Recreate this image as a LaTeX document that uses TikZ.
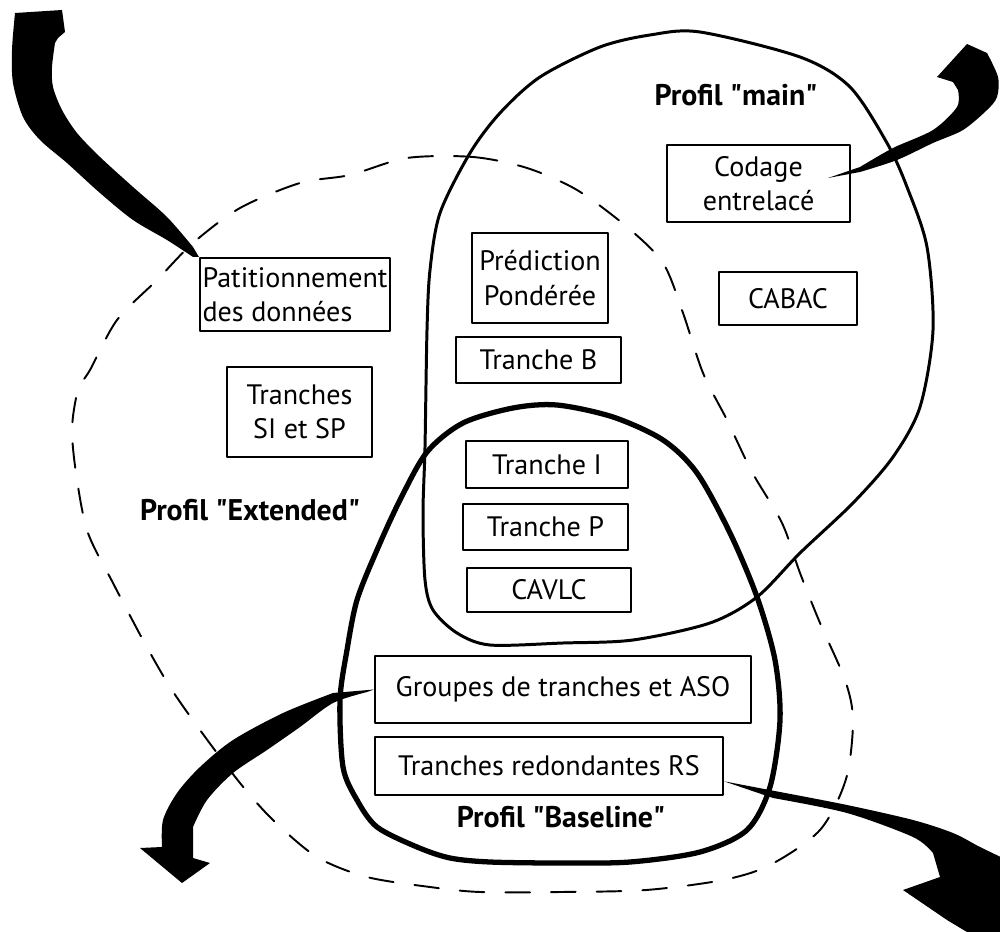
\documentclass[tikz,border=0pt]{standalone}
\usepackage{fontspec}
\setmainfont{PT Sans}
\begin{document}
\begin{tikzpicture}[line cap=round,line join=round,x=0.02cm,y=-0.02cm,
	bloc/.style={draw,line width=1.2pt,inner sep=0pt,align=center,font=\fontsize{16}{19.5}\selectfont},
	profil/.style={font=\bfseries\fontsize{17}{20}\selectfont},
	fleche/.style={fill=black}]
	\useasboundingbox (0,0) rectangle (1000,932);
	\clip (0,0) rectangle (1000,932);
	% boites
	\node[bloc,minimum width=3.66cm,minimum height=1.54cm] (codage) at (758.5,183.5) {Codage\\entrelacé};
	\node[bloc,minimum width=2.76cm,minimum height=1.06cm] (cabac) at (788,298.5) {CABAC};
	\node[bloc,minimum width=3.8cm,minimum height=1.46cm,align=left] (patit) at (295,294.5) {Patitionnement\\des données};
	\node[bloc,minimum width=2.72cm,minimum height=1.8cm] (pred) at (540,278) {Prédiction\\Pondérée};
	\node[bloc,minimum width=3.3cm,minimum height=0.92cm] (trB) at (538.5,360) {Tranche B};
	\node[bloc,minimum width=2.9cm,minimum height=1.8cm] (sisp) at (299.5,412) {Tranches\\SI et SP};
	\node[bloc,minimum width=3.24cm,minimum height=0.94cm] (trI) at (547,464.5) {Tranche I};
	\node[bloc,minimum width=3.3cm,minimum height=0.92cm] (trP) at (545.5,527) {Tranche P};
	\node[bloc,minimum width=3.28cm,minimum height=0.88cm] (cavlc) at (549,590) {CAVLC};
	\node[bloc,minimum width=7.52cm,minimum height=1.34cm] (groupes) at (563,689.5) {Groupes de tranches et ASO};
	\node[bloc,minimum width=6.96cm,minimum height=1.16cm] (rs) at (549,766) {Tranches redondantes RS};
	% profils
	\node[profil] (lmain) at (736,95) {Profil \textquotedbl main\textquotedbl};
	\node[profil] (lext) at (250,510) {Profil \textquotedbl Extended\textquotedbl};
	\node[profil] (lbase) at (561,817) {Profil \textquotedbl Baseline\textquotedbl};
	\draw[line width=1.7pt] plot[smooth cycle] coordinates {(600,47) (650,35) (700,32) (800,57) (850,87) (887,143) (907,187) (927,247) (933,330) (920,407) (893,457) (853,503) (800,553) (757,597) (710,623) (633,640) (563,643) (490,645) (457,633) (433,610) (425,580) (423,513) (425,447) (427,330) (430,270) (440,213) (470,153) (500,113) (540,77)};
	\draw[line width=3pt] plot[smooth cycle] coordinates {(427,452) (463,423) (513,408) (557,405) (613,417) (663,440) (697,473) (730,533) (757,597) (775,660) (780,720) (770,787) (747,830) (700,852) (630,862) (560,863) (490,862) (450,858) (417,847) (377,827) (357,800) (343,767) (340,700) (347,650) (357,600) (377,550) (400,500)};
	\draw[line width=1.1pt,dash pattern=on 14pt off 12pt] plot[smooth cycle] coordinates {(407,158) (473,157) (527,168) (577,190) (627,227) (663,263) (683,313) (703,373) (727,420) (752,472) (782,523) (800,573) (820,623) (845,680) (853,720) (846,779) (820,830) (770,865) (723,880) (646,890) (560,892) (480,892) (430,887) (367,877) (317,857) (273,820) (240,783) (200,730) (170,687) (143,640) (113,583) (88,533) (77,480) (72,430) (78,390) (90,370) (117,320) (157,280) (193,243) (240,208) (300,183) (350,175)};
	% fleches
	\fill[fleche] (patit.north west) -- plot[smooth] coordinates {(193,257) (167,240) (133,220) (100,193) (67,163) (40,140) (23,117) (13,83) (12,50) (15,13)} -- (62,10) -- (65,32) -- (58,38) -- plot[smooth] coordinates {(55,43) (52,67) (53,87) (62,110) (77,133) (100,157) (133,187) (167,217) (193,247)} -- cycle;
	\fill[fleche] (828,178) -- plot[smooth] coordinates {(860,167) (893,148) (933,130) (957,107) (958,90)} -- (953,82) -- (937,77) -- (967,44) -- plot[smooth] coordinates {(987,53) (998,77) (997,97) (987,110) (963,130) (933,143) (897,160) (860,172)} -- cycle;
	\fill[fleche] (groupes.west) -- plot[smooth] coordinates {(333,693) (283,713) (233,740) (200,767) (177,793) (163,820) (162,847)} -- (140,848) -- (182,883) -- (210,863) -- (193,858) -- plot[smooth] coordinates {(193,827) (207,800) (233,773) (267,750) (300,727) (333,703) (367,692)} -- cycle;
	\fill[fleche] (rs.-5) -- plot[smooth] coordinates {(780,792) (847,805) (913,820) (953,833) (980,847) (1005,859)} -- (1005,940) -- (967,932) -- (947,920) -- (903,890) -- (940,877) -- plot[smooth] coordinates {(933,853) (913,837) (847,813) (773,798)} -- cycle;
\end{tikzpicture}
\end{document}
